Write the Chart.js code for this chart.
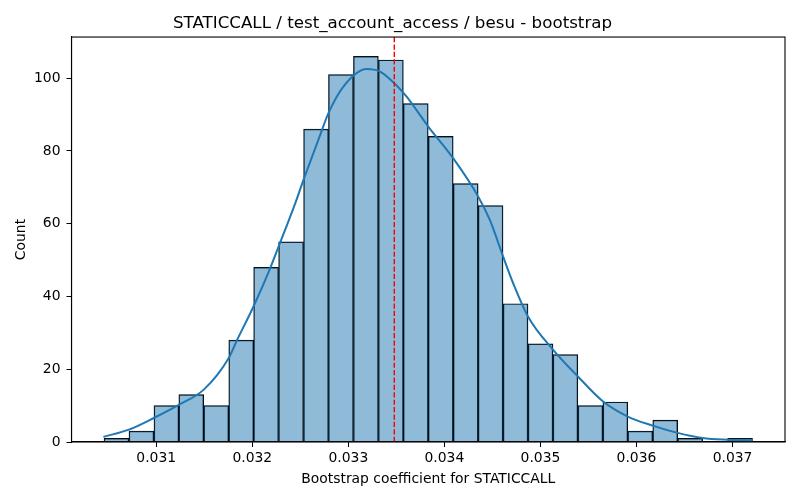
<!DOCTYPE html>
<html>
<head>
<meta charset="utf-8">
<script src="https://cdn.jsdelivr.net/npm/chart.js@4.4.0/dist/chart.umd.min.js"></script>
<style>
  html, body { margin: 0; padding: 0; background: #fff; }
  #wrap { width: 800px; height: 500px; }
</style>
</head>
<body>
<div id="wrap"><canvas id="c" width="800" height="500"></canvas></div>
<script>
// Histogram bin centers (bin width ~0.00025966)
const binCenters = [0.030586, 0.030846, 0.031106, 0.031365, 0.031625, 0.031885, 0.032144, 0.032404,
  0.032664, 0.032923, 0.033183, 0.033443, 0.033702, 0.033962, 0.034222, 0.034481, 0.034741,
  0.035001, 0.035260, 0.035520, 0.035780, 0.036039, 0.036299, 0.036559, 0.036818, 0.037078];
const counts = [1, 3, 10, 13, 10, 28, 48, 55, 86, 101, 106, 105, 93, 84, 71, 65, 38, 27, 24, 10, 11, 3, 6, 1, 0, 1];

// KDE curve
const kdeX = [0.03045, 0.030716, 0.030975, 0.031235, 0.031495, 0.031755, 0.031841, 0.032014, 0.032187,
  0.032274, 0.032447, 0.032534, 0.032707, 0.032793, 0.032949, 0.033192, 0.03333, 0.033479, 0.033607,
  0.033745, 0.033832, 0.034091, 0.034351, 0.034472, 0.034611, 0.034715, 0.03487, 0.03513, 0.03539,
  0.035649, 0.035909, 0.036169, 0.036428, 0.036688, 0.036948, 0.037208];
const kdeY = [1.4, 3.4, 6.6, 10.2, 14.4, 23.1, 28.0, 37.3, 47.8, 53.7, 65.6, 72.1, 84.4, 90.4, 97.7,
  102.5, 101.8, 98.6, 94.9, 89.9, 86.7, 78.0, 67.5, 61.1, 51.0, 43.7, 34.5, 25.4, 18.0, 11.2, 7.0,
  4.5, 2.5, 1.1, 0.6, 0.4];

const meanValue = 0.0334785;
const xTicks = [0.031, 0.032, 0.033, 0.034, 0.035, 0.036, 0.037];
const yTicks = [0, 20, 40, 60, 80, 100];

const FONT = 'DejaVu Sans';

const framePlugin = {
  id: 'frame',
  afterDatasetsDraw(chart) {
    const { ctx, chartArea, scales } = chart;
    // red dashed mean line
    const px = scales.x.getPixelForValue(meanValue);
    ctx.save();
    ctx.strokeStyle = '#ff0000';
    ctx.lineWidth = 1.4;
    ctx.setLineDash([5.2, 2.2]);
    ctx.beginPath();
    ctx.moveTo(px, chartArea.top);
    ctx.lineTo(px, chartArea.bottom);
    ctx.stroke();
    ctx.restore();
    // frame
    ctx.save();
    ctx.strokeStyle = '#000';
    ctx.lineWidth = 1.1;
    ctx.strokeRect(chartArea.left, chartArea.top, chartArea.right - chartArea.left, chartArea.bottom - chartArea.top);
    ctx.restore();
  }
};

new Chart(document.getElementById('c'), {
  type: 'bar',
  data: {
    datasets: [
      {
        type: 'line',
        data: kdeX.map((x, i) => ({ x: x, y: kdeY[i] })),
        borderColor: '#1f77b4',
        borderWidth: 2,
        pointRadius: 0,
        tension: 0.4,
        cubicInterpolationMode: 'monotone',
        fill: false,
        order: 0
      },
      {
        type: 'bar',
        data: binCenters.map((x, i) => ({ x: x, y: counts[i] })),
        backgroundColor: 'rgba(31,119,180,0.5)',
        borderColor: '#000',
        borderWidth: 0.8,
        barPercentage: 1,
        categoryPercentage: 1,
        grouped: false,
        order: 1
      }
    ]
  },
  options: {
    responsive: false,
    animation: false,
    devicePixelRatio: 1,
    layout: { padding: { left: 0, right: 15, top: 0, bottom: 0 } },
    plugins: {
      legend: { display: false },
      tooltip: { enabled: false },
      title: {
        display: true,
        text: 'STATICCALL / test_account_access / besu - bootstrap',
        color: '#000',
        font: { family: FONT, size: 16.7, weight: 'normal' },
        padding: { top: 14, bottom: 3 }
      }
    },
    scales: {
      x: {
        type: 'linear',
        min: 0.030118,
        max: 0.037546,
        offset: false,
        afterBuildTicks(scale) { scale.ticks = xTicks.map(v => ({ value: v })); },
        afterFit(scale) { scale.height = 58; },
        ticks: {
          color: '#000',
          font: { family: FONT, size: 13.9 },
          padding: 3,
          maxRotation: 0,
          autoSkip: false,
          callback: (v) => v.toFixed(3)
        },
        grid: { display: true, drawOnChartArea: false, drawTicks: true, tickLength: 5, color: '#000', offset: false },
        border: { display: true, color: '#000', width: 1.1 },
        title: {
          display: true,
          text: 'Bootstrap coefficient for STATICCALL',
          color: '#000',
          font: { family: FONT, size: 13.9 },
          padding: { top: 0, bottom: 12.5 }
        }
      },
      y: {
        type: 'linear',
        min: 0,
        max: 111.3,
        afterBuildTicks(scale) { scale.ticks = yTicks.map(v => ({ value: v })); },
        afterFit(scale) { scale.width = 71.5; },
        ticks: {
          color: '#000',
          font: { family: FONT, size: 13.9 },
          padding: 6,
          callback: (v) => String(v)
        },
        grid: { display: true, drawOnChartArea: false, drawTicks: true, tickLength: 5, color: '#000' },
        border: { display: true, color: '#000', width: 1.1 },
        title: {
          display: true,
          text: 'Count',
          color: '#000',
          font: { family: FONT, size: 13.9 },
          padding: { top: 13, bottom: 0 }
        }
      }
    }
  },
  plugins: [framePlugin]
});
</script>
</body>
</html>
